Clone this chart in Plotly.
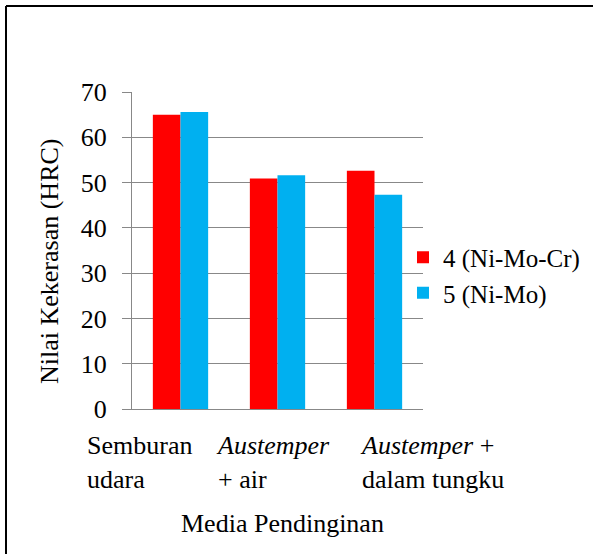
import plotly.graph_objects as go

categories = ["Semburan udara", "Austemper + air", "Austemper + dalam tungku"]
cat_labels = ["Semburan<br>udara", "<i>Austemper</i><br>+ air", "<i>Austemper</i> +<br>dalam tungku"]
series_names = ["4 (Ni-Mo-Cr)", "5 (Ni-Mo)"]
vals_nimocr = [65.0, 50.9, 52.6]
vals_nimo = [65.6, 51.6, 47.3]
colors = ["#FF0000", "#00B0F0"]
y_ticks = [0, 10, 20, 30, 40, 50, 60, 70]

FONT = "Liberation Serif, Times New Roman, serif"
FS = 26

idx = list(range(len(categories)))

fig = go.Figure()
for name, vals, col in zip(series_names, [vals_nimocr, vals_nimo], colors):
    fig.add_trace(go.Bar(x=idx, y=vals, name=name, customdata=categories,
                         marker=dict(color=col, line=dict(width=0))))

L, T, R, B = 132, 92, 170, 145
W, H = 593, 554
pw, ph = W - L - R, H - T - B

fig.update_layout(
    width=W, height=H,
    margin=dict(l=L, r=R, t=T, b=B, autoexpand=False),
    paper_bgcolor="white", plot_bgcolor="white",
    font=dict(family=FONT, size=FS, color="black"),
    barmode="group", bargap=0.43, bargroupgap=0,
    showlegend=True,
    legend=dict(xref="container", yref="container", x=403 / W, xanchor="left",
                y=1 - 275 / H, yanchor="middle",
                bgcolor="rgba(0,0,0,0)", font=dict(family=FONT, size=25),
                tracegroupgap=0, itemwidth=30),
    xaxis=dict(range=[-0.5, 2.5], tickvals=idx, showticklabels=False, showgrid=False, showline=True,
               linecolor="#888888", linewidth=1, ticks="", zeroline=False),
    yaxis=dict(range=[0, 70], tickvals=y_ticks, showgrid=True, gridcolor="#888888", gridwidth=1,
               showline=True, linecolor="#888888", linewidth=1, ticks="outside", ticklen=9,
               tickcolor="#888888", zeroline=False, ticklabelstandoff=10,
               tickfont=dict(family=FONT, size=FS)),
)

# category labels
shifts = [-96, -64, -17]
for i, (lab, sh) in enumerate(zip(cat_labels, shifts)):
    fig.add_annotation(x=idx[i], y=0, xref="x", yref="paper", text=lab, showarrow=False,
                       xanchor="left", yanchor="top", align="left", xshift=sh, yshift=-20,
                       font=dict(family=FONT, size=FS))

fig.add_annotation(x=0.5, y=-(523 - 409) / ph, xref="paper", yref="paper", text="Media Pendinginan",
                   showarrow=False, xanchor="center", yanchor="middle", xshift=5,
                   font=dict(family=FONT, size=FS))
fig.add_annotation(x=(50 - L) / pw, y=(409 - 262) / ph, xref="paper", yref="paper",
                   text="Nilai Kekerasan (HRC)", textangle=-90, showarrow=False,
                   xanchor="center", yanchor="middle", xshift=-1, font=dict(family=FONT, size=FS))

# frame lines (top and left)
fig.add_shape(type="line", xref="paper", yref="paper", x0=(6 - L) / pw, x1=(W + 5 - L) / pw,
              y0=1 + (T - 6) / ph, y1=1 + (T - 6) / ph, line=dict(color="black", width=2))
fig.add_shape(type="line", xref="paper", yref="paper", x0=(6 - L) / pw, x1=(6 - L) / pw,
              y0=1 + (T - 6) / ph, y1=-(B + 5) / ph, line=dict(color="black", width=2))

fig.write_html("out.html", config={"displayModeBar": False},
               post_script="document.body.style.margin='0';")
